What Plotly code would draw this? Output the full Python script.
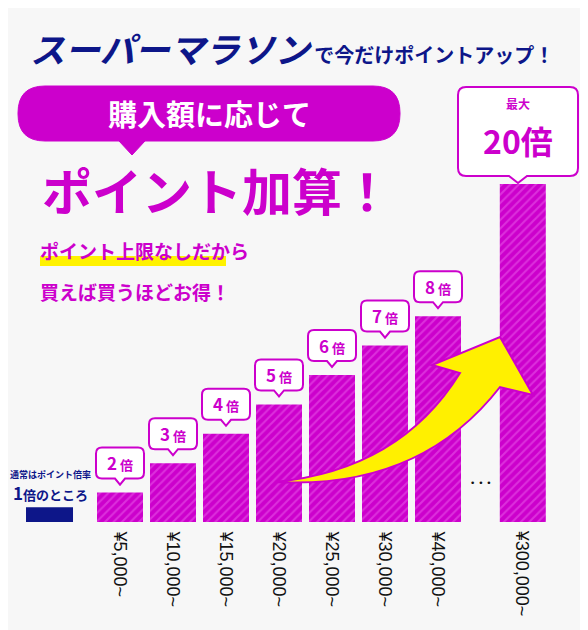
import plotly.graph_objects as go

# ---- data ----
multipliers = ["2倍", "3倍", "4倍", "5倍", "6倍", "7倍", "8倍"]
bar_heights = [1, 2, 3, 4, 5, 6, 7]          # displayed height in "step" units (not to scale for 20x)
bar_pos = [0, 1, 2, 3, 4, 5, 6]
amount_labels = ["¥5,000~", "¥10,000~", "¥15,000~", "¥20,000~", "¥25,000~", "¥30,000~", "¥40,000~"]
max_label = "20倍"
max_pos = 7.6
max_height = 11.5
max_amount = "¥300,000~"
base_label_pos = -1.33
base_height = 0.5

MAG = "#cc00cc"
NAVY = "#0d1689"
FONT = "Noto Sans CJK JP"
OFF = 8
W, H = 588 - OFF, 630 - OFF

def X(px): return (px - 120) / 53.0
def Y(py): return (522 - py) / 29.4
def PX(x): return 120 + 53 * x
def PY(y): return 522 - 29.4 * y

def bubble(x0, y0, x1, y1, r, tx, tw, ty):
    p = f"M {X(x0+r)},{Y(y0)} L {X(x1-r)},{Y(y0)} Q {X(x1)},{Y(y0)} {X(x1)},{Y(y0+r)} "
    p += f"L {X(x1)},{Y(y1-r)} Q {X(x1)},{Y(y1)} {X(x1-r)},{Y(y1)} "
    p += f"L {X(tx+tw/2)},{Y(y1)} L {X(tx)},{Y(ty)} L {X(tx-tw/2)},{Y(y1)} "
    p += f"L {X(x0+r)},{Y(y1)} Q {X(x0)},{Y(y1)} {X(x0)},{Y(y1-r)} "
    p += f"L {X(x0)},{Y(y0+r)} Q {X(x0)},{Y(y0)} {X(x0+r)},{Y(y0)} Z"
    return p

fig = go.Figure()
pattern = dict(shape="/", fgcolor="#dc30dc", bgcolor=MAG, size=6, solidity=0.35, fillmode="replace")
fig.add_trace(go.Bar(x=bar_pos + [max_pos], y=bar_heights + [max_height], width=46 / 53,
                     marker=dict(color=MAG, pattern=pattern, line=dict(width=0)),
                     hoverinfo="skip"))
fig.add_trace(go.Bar(x=[base_label_pos], y=[base_height], width=47 / 53,
                     marker=dict(color=NAVY, line=dict(width=0)), hoverinfo="skip"))

shapes, ann = [], []
for p, h, lab, amt in zip(bar_pos, bar_heights, multipliers, amount_labels):
    cx, top = PX(p), PY(h)
    shapes.append(dict(type="path", path=bubble(cx - 24, top - 45, cx + 24, top - 14, 6, cx, 10, top - 8),
                       fillcolor="white", line=dict(color=MAG, width=2), layer="above"))
    ann.append(dict(x=p, y=Y(top - 30), text=f"<b><span style='font-size:17px'>{lab[0]}</span> 倍</b>",
                    showarrow=False, font=dict(family=FONT, size=13, color=MAG)))
    ann.append(dict(x=p, y=Y(528), text=amt, textangle=90, showarrow=False, yanchor="top",
                    font=dict(family="Liberation Sans", size=18, color="#111")))
ann.append(dict(x=max_pos, y=Y(528), text=max_amount, textangle=90, showarrow=False, yanchor="top",
                font=dict(family="Liberation Sans", size=18, color="#111")))

# 20x bubble
shapes.append(dict(type="path", path=bubble(458, 87, 578, 176, 8, 518, 18, 183),
                   fillcolor="white", line=dict(color=MAG, width=2)))
ann.append(dict(x=X(518), y=Y(103), text="<b>最大</b>", showarrow=False, font=dict(family=FONT, size=12, color=MAG)))
ann.append(dict(x=X(518), y=Y(140), text="<b>" + max_label + "</b>", showarrow=False, font=dict(family=FONT, size=32, color=MAG)))

# pink pill
shapes.append(dict(type="path", path=bubble(18, 86, 400, 141, 27, 132, 26, 155),
                   fillcolor=MAG, line=dict(color=MAG, width=1)))
ann.append(dict(x=X(209), y=Y(113), text="<b>購入額に応じて</b>", showarrow=False,
                font=dict(family=FONT, size=29, color="white")))
ann.append(dict(x=X(40), y=Y(189), xanchor="left", text="<b>ポイント加算！</b>", showarrow=False,
                font=dict(family=FONT, size=50, color=MAG)))
shapes.append(dict(type="rect", x0=X(40), x1=X(226), y0=Y(256), y1=Y(266), fillcolor="#fff200", line=dict(width=0), layer="below"))
ann.append(dict(x=X(38), y=Y(250), xanchor="left", text="<b>ポイント上限なしだから</b>", showarrow=False,
                font=dict(family=FONT, size=19, color=MAG)))
ann.append(dict(x=X(38), y=Y(291), xanchor="left", text="<b>買えば買うほどお得！</b>", showarrow=False,
                font=dict(family=FONT, size=19, color=MAG)))

# title
ann.append(dict(x=X(28), y=Y(47), xanchor="left",
                text="<b><i><span style='font-size:35px'>スーパーマラソン</span></i> で今だけポイントアップ！</b>",
                showarrow=False, font=dict(family=FONT, size=20, color=NAVY)))

# left legend text
ann.append(dict(x=X(50), y=Y(474), text="<b>通常はポイント倍率</b>", showarrow=False, font=dict(family=FONT, size=9, color=NAVY)))
ann.append(dict(x=X(50), y=Y(492), text="<b><span style='font-size:17px'>1</span>倍のところ</b>", showarrow=False, font=dict(family=FONT, size=13, color=NAVY)))

# dots
ann.append(dict(x=X(481), y=Y(483), text="• • •", showarrow=False, font=dict(family="DejaVu Sans", size=9, color="#111")))

# arrow
ap = (f"M {X(275)},{Y(482)} Q {X(400)},{Y(470)} {X(460)},{Y(373)} L {X(432)},{Y(365)} L {X(500)},{Y(337)} "
      f"L {X(533)},{Y(395)} L {X(500)},{Y(387)} Q {X(420)},{Y(490)} {X(275)},{Y(482)} Z")
shapes.append(dict(type="path", path=ap, fillcolor="#fff000", line=dict(color=MAG, width=2), layer="above"))

fig.update_layout(width=W, height=H, margin=dict(l=0, r=0, t=0, b=0), showlegend=False,
                  paper_bgcolor="#f7f7f7", plot_bgcolor="#f7f7f7", barmode="overlay",
                  xaxis=dict(range=[X(OFF), X(588)], visible=False, fixedrange=True),
                  yaxis=dict(range=[Y(630), Y(OFF)], visible=False, fixedrange=True),
                  shapes=shapes, annotations=ann)
fig.write_html("out.html")
